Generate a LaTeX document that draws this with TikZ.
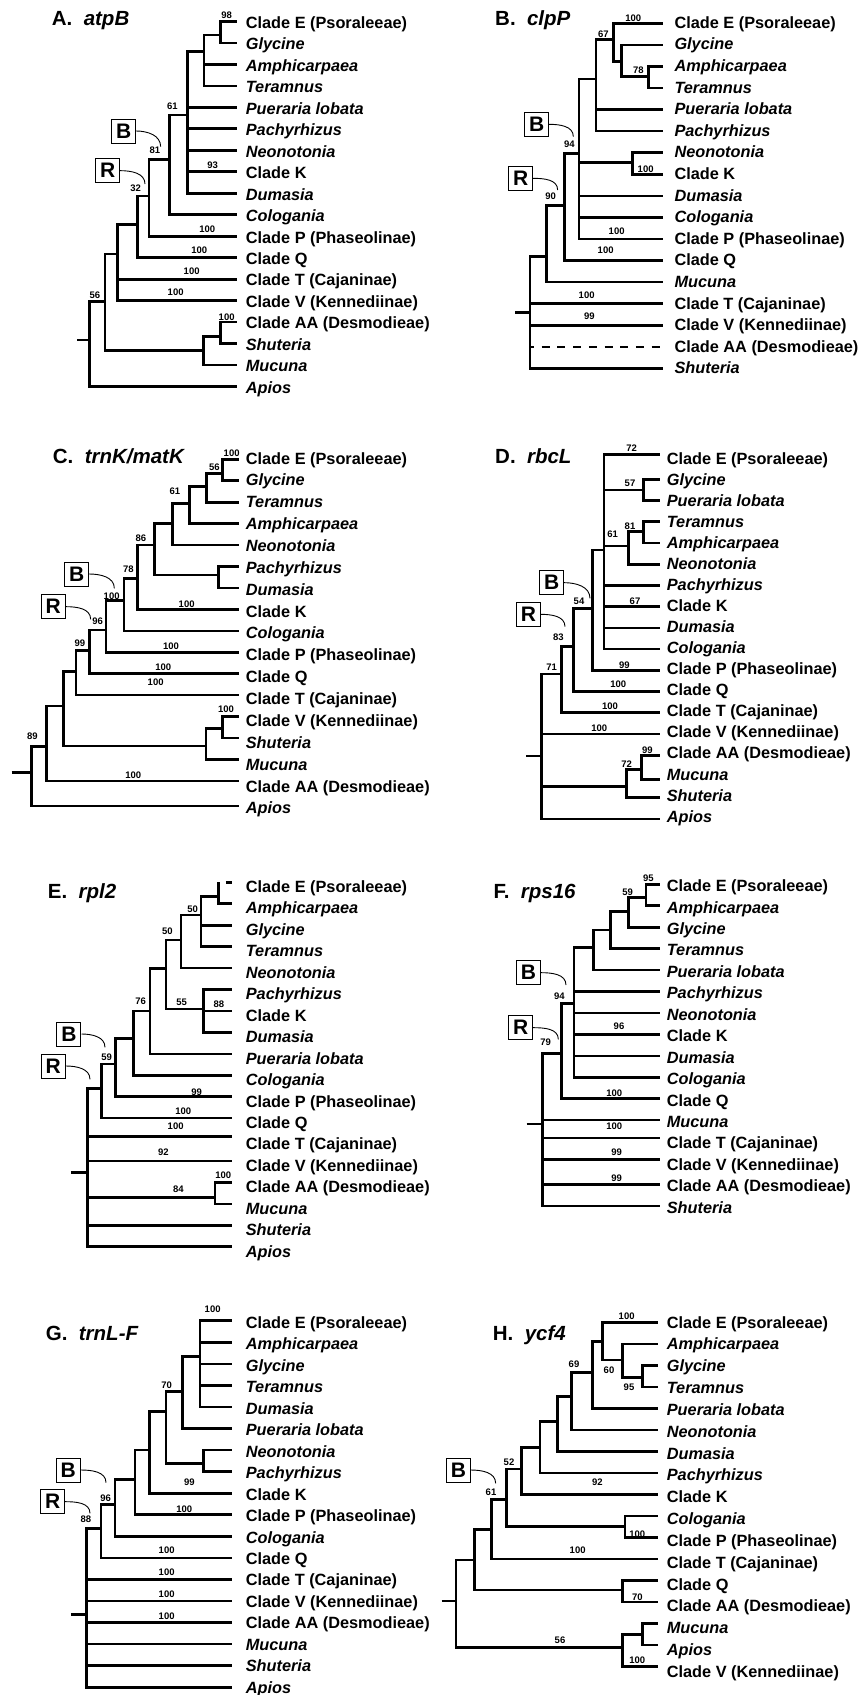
\documentclass[tikz,border=0pt]{standalone}
\usepackage{fontspec}
\setmainfont{Liberation Sans}
\newcommand{\gn}[1]{\textit{#1}}
\newcommand{\cladeE}{Clade E (Psoraleeae)}
\newcommand{\cladeP}{Clade P (Phaseolinae)}
\newcommand{\cladeT}{Clade T (Cajaninae)}
\newcommand{\cladeV}{Clade V (Kennediinae)}
\newcommand{\cladeAA}{Clade AA (Desmodieae)}

\begin{document}
\begin{tikzpicture}[x=0.333333pt, y=-0.333333pt,
  br/.style={line width=2.6pt},
  leaf/.style={anchor=base west, inner sep=0pt, font=\fontsize{16.3}{18}\selectfont\bfseries},
  bs/.style={inner sep=0pt, font=\fontsize{9.5}{10}\selectfont\bfseries},
  ttl/.style={anchor=base west, inner sep=0pt, font=\fontsize{20.5}{22}\selectfont\bfseries},
  clbox/.style={draw, line width=1pt, minimum size=24pt, inner sep=0pt, font=\fontsize{21}{22}\selectfont\bfseries},
  hookln/.style={line width=0.9pt}]
\fill[white] (0pt,0pt) rectangle (860pt,-1695pt);
\useasboundingbox (0pt,0pt) rectangle (860pt,-1695pt);

% A. atpB
\begin{scope}
\node[ttl] (Attl) at (155,75) {A.\ \ \gn{atpB}};
\foreach \lab [count=\i] in {\cladeE, \gn{Glycine}, \gn{Amphicarpaea}, \gn{Teramnus}, \gn{Pueraria lobata}, \gn{Pachyrhizus}, \gn{Neonotonia}, Clade K, \gn{Dumasia}, \gn{Cologania}, \cladeP, Clade Q, \cladeT, \cladeV, \cladeAA, \gn{Shuteria}, \gn{Mucuna}, \gn{Apios}} {
  \coordinate (A\i) at (710,{64+64.47*(\i-1)});
  \node[leaf] (At\i) at (737,{85+64.4*(\i-1)}) {\lab};
}
\coordinate (A0) at (232,1020);
\coordinate (Ar) at (268,1020);
\coordinate (Aa) at (315,905);
\coordinate (Ab) at (610,1052);
\coordinate (Ac) at (352,762);
\coordinate (Ad) at (662,1010);
\coordinate (Ae) at (413,673);
\coordinate (Af) at (447,588);
\coordinate (Ag) at (508,478);
\coordinate (Ah) at (562,345);
\coordinate (Ai) at (612,155);
\coordinate (Aj) at (662,105);
\draw[br] (A0) -- (Ar);
\foreach \pn/\cn in {Ar/Aa, Ar/A18, Aa/Ab, Aa/Ac, Ab/Ad, Ab/A17, Ad/A15, Ad/A16,
  Ac/Ae, Ac/A13, Ac/A14, Ae/Af, Ae/A12, Af/Ag, Af/A11, Ag/Ah, Ag/A10,
  Ah/Ai, Ah/A5, Ah/A6, Ah/A7, Ah/A8, Ah/A9, Ai/Aj, Ai/A3, Ai/A4, Aj/A1, Aj/A2}
  \draw[br] (\pn) |- (\cn);
\foreach \x/\y/\bv [count=\i] in {680/45/98, 517/318/61, 465/450/81, 407/565/32, 638/497/93,
  622/688/100, 598/752/100, 575/815/100, 527/878/100, 285/887/56, 680/952/100}
  \node[bs] (Abs\i) at (\x,\y) {\bv};
\node[clbox] (AboxB) at (371,393) {B};
\node[clbox] (AboxR) at (323,512) {R};
\coordinate (AhkB) at (482,440);
\coordinate (AhkR) at (435,552);
\draw[hookln] (AboxB.east) to[out=0,in=90] (AhkB);
\draw[hookln] (AboxR.east) to[out=0,in=90] (AhkR);
\end{scope}

% B. clpP
\begin{scope}[xshift=430pt]
\node[ttl] (Bttl) at (195,75) {B.\ \ \gn{clpP}};
\foreach \lab [count=\i] in {\cladeE, \gn{Glycine}, \gn{Amphicarpaea}, \gn{Teramnus}, \gn{Pueraria lobata}, \gn{Pachyrhizus}, \gn{Neonotonia}, Clade K, \gn{Dumasia}, \gn{Cologania}, \cladeP, Clade Q, \gn{Mucuna}, \cladeT, \cladeV, \cladeAA, \gn{Shuteria}} {
  \coordinate (B\i) at (700,{70+64.7*(\i-1)});
  \node[leaf] (Bt\i) at (733,{85+64.8*(\i-1)}) {\lab};
}
\coordinate (B0) at (255,938);
\coordinate (Br) at (300,938);
\coordinate (Ba) at (350,770);
\coordinate (Bb) at (403,617);
\coordinate (Bc) at (447,460);
\coordinate (Bd) at (498,237);
\coordinate (Be) at (550,118);
\coordinate (Bf) at (575,185);
\coordinate (Bg) at (655,230);
\coordinate (Bh) at (607,487);
\draw[br] (B0) -- (Br);
\foreach \pn/\cn in {Br/Ba, Br/B14, Br/B15, Br/B17, Ba/Bb, Ba/B13, Bb/Bc, Bb/B12,
  Bc/Bd, Bc/Bh, Bc/B9, Bc/B10, Bc/B11, Bd/Be, Bd/B5, Bd/B6, Be/B1, Be/Bf,
  Bf/B2, Bf/Bg, Bg/B3, Bg/B4, Bh/B7, Bh/B8}
  \draw[br] (\pn) |- (\cn);
\draw[br, dash pattern=on 8pt off 7.7pt, dash phase=4pt] (Br |- B16) -- (B16);
\foreach \x/\y/\bv [count=\i] in {610/55/100, 520/103/67, 625/210/78, 418/433/94, 362/590/90,
  647/507/100, 560/695/100, 527/752/100, 470/885/100, 478/950/99}
  \node[bs] (Bbs\i) at (\x,\y) {\bv};
\node[clbox] (BboxB) at (320,373) {B};
\node[clbox] (BboxR) at (272,535) {R};
\coordinate (BhkB) at (430,410);
\coordinate (BhkR) at (383,570);
\draw[hookln] (BboxB.east) to[out=0,in=90] (BhkB);
\draw[hookln] (BboxR.east) to[out=0,in=90] (BhkR);
\end{scope}

% C. trnK/matK
\begin{scope}[yshift=-420pt]
\node[ttl] (Cttl) at (158,130) {C.\ \ \gn{trnK/matK}};
\foreach \lab [count=\i] in {\cladeE, \gn{Glycine}, \gn{Teramnus}, \gn{Amphicarpaea}, \gn{Neonotonia}, \gn{Pachyrhizus}, \gn{Dumasia}, Clade K, \gn{Cologania}, \cladeP, Clade Q, \cladeT, \cladeV, \gn{Shuteria}, \gn{Mucuna}, \cladeAA, \gn{Apios}} {
  \coordinate (C\i) at (718,{118+64.3*(\i-1)});
  \node[leaf] (Ct\i) at (737,{132+65.6*(\i-1)}) {\lab};
}
\coordinate (C17) at (718,1158);
\coordinate (C0) at (35,1057);
\coordinate (Cr) at (95,1057);
\coordinate (Ca) at (140,980);
\coordinate (Cb) at (190,858);
\coordinate (Cc) at (228,755);
\coordinate (Cd) at (618,978);
\coordinate (Ce) at (668,925);
\coordinate (Cf) at (268,692);
\coordinate (Cg) at (318,630);
\coordinate (Ch) at (372,542);
\coordinate (Ci) at (413,475);
\coordinate (Cj) at (463,375);
\coordinate (Ck) at (517,310);
\coordinate (Cl) at (655,465);
\coordinate (Cm) at (568,250);
\coordinate (Cn) at (620,200);
\coordinate (Co) at (668,160);
\draw[br] (C0) -- (Cr);
\foreach \pn/\cn in {Cr/Ca, Cr/C17, Ca/Cb, Ca/C16, Cb/Cc, Cb/Cd, Cd/Ce, Cd/C15, Ce/C13, Ce/C14,
  Cc/Cf, Cc/C12, Cf/Cg, Cf/C11, Cg/Ch, Cg/C10, Ch/Ci, Ch/C9, Ci/Cj, Ci/C8,
  Cj/Ck, Cj/Cl, Cl/C6, Cl/C7, Ck/Cm, Ck/C5, Cm/Cn, Cm/C4, Cn/Co, Cn/C3, Co/C1, Co/C2}
  \draw[br] (\pn) |- (\cn);
\foreach \x/\y/\bv [count=\i] in {695/100/100, 643/143/56, 525/215/61, 423/355/86, 385/447/78,
  335/530/100, 293/603/96, 240/670/99, 560/553/100, 513/678/100, 490/743/100,
  467/787/100, 678/868/100, 97/948/89, 400/1065/100}
  \node[bs] (Cbs\i) at (\x,\y) {\bv};
\node[clbox] (CboxB) at (230,462) {B};
\node[clbox] (CboxR) at (160,560) {R};
\coordinate (ChkB) at (343,505);
\coordinate (ChkR) at (272,598);
\draw[hookln] (CboxB.east) to[out=0,in=90] (ChkB);
\draw[hookln] (CboxR.east) to[out=0,in=90] (ChkR);
\end{scope}

% D. rbcL
\begin{scope}[xshift=430pt, yshift=-420pt]
\node[ttl] (Dttl) at (195,130) {D.\ \ \gn{rbcL}};
\foreach \lab [count=\i] in {\cladeE, \gn{Glycine}, \gn{Pueraria lobata}, \gn{Teramnus}, \gn{Amphicarpaea}, \gn{Neonotonia}, \gn{Pachyrhizus}, Clade K, \gn{Dumasia}, \gn{Cologania}, \cladeP, Clade Q, \cladeT, \cladeV, \cladeAA, \gn{Mucuna}, \gn{Shuteria}, \gn{Apios}} {
  \coordinate (D\i) at (690,{114.3+63.67*(\i-1)});
  \node[leaf] (Dt\i) at (710,{132+63.2*(\i-1)}) {\lab};
}
\coordinate (D1) at (690,104);
\coordinate (D16) at (690,1078);
\coordinate (D0) at (288,1008);
\coordinate (Dr) at (335,1008);
\coordinate (Da) at (395,762);
\coordinate (Db) at (430,680);
\coordinate (Dc) at (488,565);
\coordinate (Dd) at (522,390);
\coordinate (De) at (640,210);
\coordinate (Df) at (595,378);
\coordinate (Dg) at (640,335);
\coordinate (Dh) at (590,1100);
\coordinate (Di) at (635,1048);
\draw[br] (D0) -- (Dr);
\foreach \pn/\cn in {Dr/Da, Dr/D14, Dr/Dh, Dr/D18, Da/Db, Da/D13, Db/Dc, Db/D12, Dc/Dd, Dc/D11,
  Dd/D1, Dd/De, Dd/Df, Dd/D7, Dd/D8, Dd/D9, Dd/D10, De/D2, De/D3, Df/Dg, Df/D6,
  Dg/D4, Dg/D5, Dh/Di, Dh/D17, Di/D15, Di/D16}
  \draw[br] (\pn) |- (\cn);
\foreach \x/\y/\bv [count=\i] in {605/85/72, 600/190/57, 600/318/81, 548/343/61, 615/545/67,
  447/545/54, 385/652/83, 365/742/71, 583/735/99, 565/793/100, 540/860/100,
  508/925/100, 652/990/99, 590/1032/72}
  \node[bs] (Dbs\i) at (\x,\y) {\bv};
\node[clbox] (DboxB) at (365,488) {B};
\node[clbox] (DboxR) at (295,583) {R};
\coordinate (DhkB) at (480,535);
\coordinate (DhkR) at (405,620);
\draw[hookln] (DboxB.east) to[out=0,in=90] (DhkB);
\draw[hookln] (DboxR.east) to[out=0,in=90] (DhkR);
\end{scope}

% E. rpl2
\begin{scope}[yshift=-850pt]
\node[ttl] (Ettl) at (143,145) {E.\ \ \gn{rpl2}};
\foreach \lab [count=\i] in {\cladeE, \gn{Amphicarpaea}, \gn{Glycine}, \gn{Teramnus}, \gn{Neonotonia}, \gn{Pachyrhizus}, Clade K, \gn{Dumasia}, \gn{Pueraria lobata}, \gn{Cologania}, \cladeP, Clade Q, \cladeT, \cladeV, \cladeAA, \gn{Mucuna}, \gn{Shuteria}, \gn{Apios}} {
  \coordinate (E\i) at (695,{97+64.3*(\i-1)});
  \node[leaf] (Et\i) at (737,{127+64.4*(\i-1)}) {\lab};
}
\coordinate (E13) at (695,860);
\coordinate (E1s) at (678,97);
\coordinate (E0) at (213,968);
\coordinate (Er) at (262,968);
\coordinate (Ea) at (305,715);
\coordinate (Eb) at (347,642);
\coordinate (Ec) at (400,565);
\coordinate (Ed) at (450,483);
\coordinate (Ee) at (498,355);
\coordinate (Ef) at (543,270);
\coordinate (Eg) at (603,195);
\coordinate (Eh) at (655,140);
\coordinate (Ei) at (610,477);
\coordinate (Ej) at (645,1043);
\draw[br] (E0) -- (Er);
\foreach \pn/\cn in {Er/Ea, Er/E13, Er/E14, Er/Ej, Er/E17, Er/E18, Ej/E15, Ej/E16,
  Ea/Eb, Ea/E12, Eb/Ec, Eb/E11, Ec/Ed, Ec/E10, Ed/Ee, Ed/E9, Ee/Ef, Ee/Ei,
  Ei/E6, Ei/E7, Ei/E8, Ef/Eg, Ef/E5, Eg/Eh, Eg/E3, Eg/E4, Eh/E2}
  \draw[br] (\pn) |- (\cn);
\draw[br] (Eh) -- (Eh |- E1);
\draw[br] (E1s) -- (E1);
\foreach \x/\y/\bv [count=\i] in {578/178/50, 502/243/50, 422/455/76, 545/457/55, 657/463/88,
  320/622/59, 590/728/99, 550/785/100, 527/828/100, 490/908/92, 670/975/100, 535/1017/84}
  \node[bs] (Ebs\i) at (\x,\y) {\bv};
\node[clbox] (EboxB) at (207,552) {B};
\node[clbox] (EboxR) at (160,648) {R};
\coordinate (EhkB) at (315,592);
\coordinate (EhkR) at (270,688);
\draw[hookln] (EboxB.east) to[out=0,in=90] (EhkB);
\draw[hookln] (EboxR.east) to[out=0,in=90] (EhkR);
\end{scope}

% F. rps16
\begin{scope}[xshift=430pt, yshift=-850pt]
\node[ttl] (Fttl) at (190,145) {F.\ \ \gn{rps16}};
\foreach \lab [count=\i] in {\cladeE, \gn{Amphicarpaea}, \gn{Glycine}, \gn{Teramnus}, \gn{Pueraria lobata}, \gn{Pachyrhizus}, \gn{Neonotonia}, Clade K, \gn{Dumasia}, \gn{Cologania}, Clade Q, \gn{Mucuna}, \cladeT, \cladeV, \cladeAA, \gn{Shuteria}} {
  \coordinate (F\i) at (690,{103+64.3*(\i-1)});
  \node[leaf] (Ft\i) at (710,{125+64.3*(\i-1)}) {\lab};
}
\coordinate (F13) at (690,864);
\coordinate (F14) at (690,929);
\coordinate (F0) at (290,822);
\coordinate (Fr) at (337,822);
\coordinate (Fa) at (395,610);
\coordinate (Fb) at (432,460);
\coordinate (Fc) at (490,293);
\coordinate (Fd) at (542,240);
\coordinate (Fe) at (595,185);
\coordinate (Ff) at (648,143);
\draw[br] (F0) -- (Fr);
\foreach \pn/\cn in {Fr/Fa, Fr/F12, Fr/F13, Fr/F14, Fr/F15, Fr/F16, Fa/Fb, Fa/F11,
  Fb/Fc, Fb/F6, Fb/F7, Fb/F8, Fb/F9, Fb/F10, Fc/Fd, Fc/F5, Fd/Fe, Fd/F4,
  Fe/Ff, Fe/F3, Ff/F1, Ff/F2}
  \draw[br] (\pn) |- (\cn);
\foreach \x/\y/\bv [count=\i] in {655/85/95, 593/128/59, 388/438/94, 347/578/79, 567/530/96,
  553/730/100, 553/828/100, 560/908/99, 560/985/99}
  \node[bs] (Fbs\i) at (\x,\y) {\bv};
\node[clbox] (FboxB) at (295,368) {B};
\node[clbox] (FboxR) at (272,533) {R};
\coordinate (FhkB) at (408,405);
\coordinate (FhkR) at (385,568);
\draw[hookln] (FboxB.east) to[out=0,in=90] (FhkB);
\draw[hookln] (FboxR.east) to[out=0,in=90] (FhkR);
\end{scope}

% G. trnL-F
\begin{scope}[yshift=-1270pt]
\node[ttl] (Gttl) at (137,210) {G.\ \ \gn{trnL-F}};
\foreach \lab [count=\i] in {\cladeE, \gn{Amphicarpaea}, \gn{Glycine}, \gn{Teramnus}, \gn{Dumasia}, \gn{Pueraria lobata}, \gn{Neonotonia}, \gn{Pachyrhizus}, Clade K, \cladeP, \gn{Cologania}, Clade Q, \cladeT, \cladeV, \cladeAA, \gn{Mucuna}, \gn{Shuteria}, \gn{Apios}} {
  \coordinate (G\i) at (695,{152+64.7*(\i-1)});
  \node[leaf] (Gt\i) at (737,{175+64.4*(\i-1)}) {\lab};
}
\coordinate (G0) at (213,1033);
\coordinate (Gr) at (260,1033);
\coordinate (Ga) at (303,775);
\coordinate (Gb) at (345,703);
\coordinate (Gc) at (405,628);
\coordinate (Gd) at (448,540);
\coordinate (Ge) at (498,425);
\coordinate (Gf) at (548,365);
\coordinate (Gg) at (600,260);
\coordinate (Gh) at (610,580);
\draw[br] (G0) -- (Gr);
\foreach \pn/\cn in {Gr/Ga, Gr/G13, Gr/G14, Gr/G15, Gr/G16, Gr/G17, Gr/G18, Ga/Gb, Ga/G12,
  Gb/Gc, Gb/G11, Gc/Gd, Gc/G10, Gd/Ge, Gd/G9, Ge/Gf, Ge/Gh, Gh/G7, Gh/G8,
  Gf/Gg, Gf/G6, Gg/G1, Gg/G2, Gg/G3, Gg/G4, Gg/G5}
  \draw[br] (\pn) |- (\cn);
\foreach \x/\y/\bv [count=\i] in {638/118/100, 500/347/70, 568/637/99, 553/718/100, 317/685/96,
  258/748/88, 500/842/100, 500/908/100, 500/972/100, 500/1040/100}
  \node[bs] (Gbs\i) at (\x,\y) {\bv};
\node[clbox] (GboxB) at (205,600) {B};
\node[clbox] (GboxR) at (158,695) {R};
\coordinate (GhkB) at (318,638);
\coordinate (GhkR) at (270,730);
\draw[hookln] (GboxB.east) to[out=0,in=90] (GhkB);
\draw[hookln] (GboxR.east) to[out=0,in=90] (GhkR);
\end{scope}

% H. ycf4
\begin{scope}[xshift=430pt, yshift=-1270pt]
\node[ttl] (Httl) at (188,210) {H.\ \ \gn{ycf4}};
\foreach \lab [count=\i] in {\cladeE, \gn{Amphicarpaea}, \gn{Glycine}, \gn{Teramnus}, \gn{Pueraria lobata}, \gn{Neonotonia}, \gn{Dumasia}, \gn{Pachyrhizus}, Clade K, \gn{Cologania}, \cladeP, \cladeT, Clade Q, \cladeAA, \gn{Mucuna}, \gn{Apios}, \cladeV} {
  \coordinate (H\i) at (685,{157+64.56*(\i-1)});
  \node[leaf] (Ht\i) at (710,{174+65.5*(\i-1)}) {\lab};
}
\coordinate (H0) at (35,993);
\coordinate (Hr) at (78,993);
\coordinate (Ha) at (133,870);
\coordinate (Hb) at (578,1133);
\coordinate (Hc) at (638,1093);
\coordinate (Hd) at (185,778);
\coordinate (He) at (578,960);
\coordinate (Hf) at (230,688);
\coordinate (Hg) at (585,770);
\coordinate (Hh) at (275,597);
\coordinate (Hi) at (330,532);
\coordinate (Hj) at (383,455);
\coordinate (Hk) at (425,380);
\coordinate (Hl) at (487,308);
\coordinate (Hm) at (518,215);
\coordinate (Hn) at (577,270);
\coordinate (Ho) at (638,323);
\draw[br] (H0) -- (Hr);
\foreach \pn/\cn in {Hr/Ha, Hr/Hb, Hb/Hc, Hb/H17, Hc/H15, Hc/H16, Ha/Hd, Ha/He, He/H13, He/H14,
  Hd/Hf, Hd/H12, Hf/Hh, Hf/Hg, Hg/H10, Hg/H11, Hh/Hi, Hh/H9, Hi/Hj, Hi/H8,
  Hj/Hk, Hj/H7, Hk/Hl, Hk/H6, Hl/Hm, Hl/H5, Hm/H1, Hm/Hn, Hn/H2, Hn/Ho, Ho/H3, Ho/H4}
  \draw[br] (\pn) |- (\cn);
\foreach \x/\y/\bv [count=\i] in {590/140/100, 432/282/69, 537/302/60, 597/352/95, 237/577/52,
  183/668/61, 502/637/92, 622/792/100, 443/840/100, 622/982/70, 390/1112/56, 622/1170/100}
  \node[bs] (Hbs\i) at (\x,\y) {\bv};
\node[clbox] (HboxB) at (85,600) {B};
\coordinate (HhkB) at (197,640);
\draw[hookln] (HboxB.east) to[out=0,in=90] (HhkB);
\end{scope}
\end{tikzpicture}
\end{document}
